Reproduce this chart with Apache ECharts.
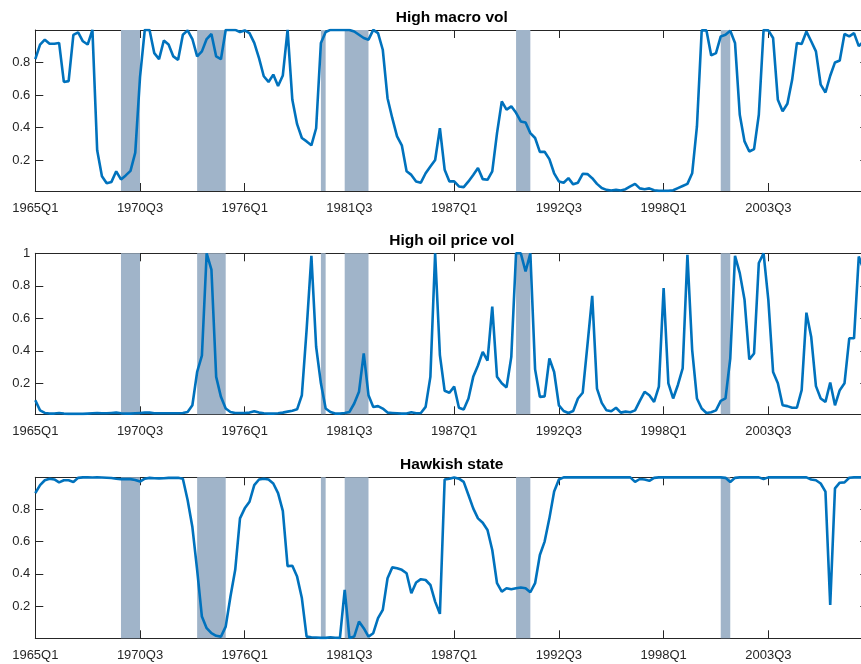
<!DOCTYPE html>
<html>
<head>
<meta charset="utf-8">
<script src="https://cdn.jsdelivr.net/npm/echarts@6/dist/echarts.min.js"></script>
<style>
html,body{margin:0;padding:0;background:#fff;overflow:hidden;width:861px;height:664px;}
#chart{width:880px;height:664px;}
</style>
</head>
<body>
<div id="chart"></div>
<script>
// Quarterly categories 1965Q1 .. 2008Q4
const startYear = 1965;
const nQuarters = 176;
const quarters = [];
for (let i = 0; i < nQuarters; i++) {
  quarters.push((startYear + Math.floor(i / 4)) + 'Q' + (i % 4 + 1));
}
const tickLabels = ['1965Q1','1970Q3','1976Q1','1981Q3','1987Q1','1992Q3','1998Q1','2003Q3'];

const titles = ['High macro vol', 'High oil price vol', 'Hawkish state'];

const highMacroVol = [
0.82,0.91,0.94,0.915,0.915,0.92,0.68,0.685,0.97,0.985,
0.93,0.91,1.0,0.26,0.10,0.057,0.065,0.13,0.08,0.105,
0.133,0.245,0.71,1.0,1.0,0.857,0.82,0.935,0.91,0.837,
0.816,0.97,0.997,0.944,0.837,0.868,0.944,0.975,0.837,0.82,
1.0,1.0,1.0,0.987,0.997,0.98,0.92,0.826,0.715,0.68,
0.725,0.655,0.72,1.0,0.57,0.42,0.335,0.314,0.29,0.395,
0.92,0.987,1.0,1.0,1.0,1.0,1.0,0.99,0.97,0.95,
0.94,1.0,0.98,0.878,0.58,0.457,0.345,0.29,0.13,0.108,
0.068,0.06,0.118,0.16,0.2,0.395,0.14,0.068,0.068,0.037,
0.033,0.068,0.108,0.15,0.082,0.078,0.13,0.365,0.56,0.51,
0.53,0.49,0.437,0.43,0.365,0.335,0.25,0.25,0.205,0.118,
0.068,0.06,0.088,0.05,0.06,0.115,0.113,0.088,0.053,0.027,
0.016,0.012,0.016,0.012,0.02,0.037,0.053,0.025,0.02,0.025,
0.014,0.01,0.01,0.01,0.014,0.027,0.04,0.053,0.118,0.406,
0.997,0.997,0.843,0.857,0.96,0.97,0.995,0.92,0.478,0.314,
0.252,0.267,0.478,1.0,0.997,0.95,0.57,0.5,0.546,0.693,
0.92,0.913,0.99,0.93,0.868,0.663,0.615,0.718,0.8,0.812,
0.975,0.96,0.98,0.9,0.93,0.95
];

const highOilVol = [
0.096,0.034,0.018,0.014,0.014,0.018,0.014,0.012,0.012,0.012,
0.012,0.014,0.016,0.018,0.016,0.016,0.018,0.02,0.016,0.014,
0.014,0.016,0.018,0.02,0.02,0.016,0.016,0.016,0.016,0.016,
0.016,0.018,0.024,0.065,0.27,0.37,1.0,0.9,0.24,0.117,
0.045,0.024,0.018,0.018,0.018,0.02,0.028,0.02,0.016,0.014,
0.014,0.016,0.02,0.026,0.032,0.04,0.127,0.53,0.985,0.425,
0.2,0.045,0.024,0.014,0.014,0.018,0.024,0.076,0.148,0.384,
0.127,0.055,0.06,0.045,0.02,0.018,0.016,0.014,0.014,0.022,
0.016,0.018,0.055,0.24,1.0,0.374,0.154,0.142,0.18,0.05,
0.039,0.107,0.24,0.31,0.394,0.34,0.672,0.24,0.2,0.175,
0.363,1.0,1.0,0.888,1.0,0.286,0.117,0.12,0.353,0.27,
0.065,0.03,0.018,0.03,0.107,0.142,0.436,0.738,0.168,0.08,
0.034,0.028,0.05,0.02,0.026,0.022,0.034,0.092,0.148,0.127,
0.086,0.18,0.786,0.2,0.107,0.19,0.292,0.99,0.405,0.107,
0.045,0.018,0.022,0.034,0.092,0.107,0.353,0.985,0.878,0.714,
0.347,0.384,0.94,1.0,0.714,0.27,0.2,0.065,0.06,0.05,
0.05,0.158,0.635,0.487,0.183,0.107,0.086,0.205,0.065,0.158,
0.2,0.477,0.477,0.98,0.9,0.85
];

const hawkishState = [
0.9,0.95,0.98,0.99,0.985,0.967,0.98,0.98,0.97,0.995,
0.998,0.998,0.997,0.998,0.997,0.996,0.994,0.99,0.987,0.987,
0.987,0.982,0.972,0.99,0.995,0.993,0.992,0.993,0.995,0.995,
0.996,0.99,0.858,0.69,0.425,0.135,0.063,0.032,0.016,0.011,
0.073,0.26,0.425,0.744,0.806,0.847,0.95,0.985,0.99,0.985,
0.96,0.9,0.79,0.448,0.45,0.383,0.25,0.011,0.007,0.005,
0.003,0.003,0.007,0.004,0.003,0.3,0.003,0.011,0.104,0.063,
0.011,0.032,0.125,0.177,0.373,0.44,0.435,0.425,0.404,0.28,
0.346,0.367,0.362,0.331,0.228,0.152,0.985,0.99,0.998,0.99,
0.97,0.889,0.806,0.744,0.717,0.672,0.548,0.342,0.29,0.311,
0.305,0.311,0.315,0.311,0.286,0.342,0.517,0.6,0.744,0.91,
0.985,0.998,0.998,0.998,0.998,0.998,0.998,0.998,0.998,0.998,
0.998,0.998,0.998,0.998,0.998,0.998,0.97,0.988,0.985,0.977,
0.995,0.998,0.998,0.998,0.998,0.998,0.998,0.998,0.998,0.998,
0.998,0.998,0.998,0.998,0.998,0.995,0.97,0.995,0.998,0.998,
0.998,0.998,0.998,0.988,0.998,0.998,0.998,0.998,0.998,0.998,
0.998,0.998,0.998,0.985,0.98,0.96,0.91,0.208,0.93,0.965,
0.967,0.996,0.998,0.998,0.998,0.998
];

const recessions = [
  ['1969Q3','1970Q3'],
  ['1973Q3','1975Q1'],
  ['1980Q1','1980Q2'],
  ['1981Q2','1982Q3'],
  ['1990Q2','1991Q1'],
  ['2001Q1','2001Q3']
];

const seriesList = [highMacroVol, highOilVol, hawkishState];
const yMin = [0.009, 0.0096, 0.0005];
const yMax = [0.9995, 1.0, 0.9985];
const yTickValues = [
  [0.2, 0.4, 0.6, 0.8],
  [0.2, 0.4, 0.6, 0.8, 1],
  [0.2, 0.4, 0.6, 0.8]
];
const gridTops = [30, 253.3, 477.3];
const gridHeight = 161;
const gridLeft = 35.3;
const gridWidth = 833;

const axisColor = '#262626';
const fontFamily = '"Liberation Sans", Arial, Helvetica, sans-serif';

const grids = [], xAxes = [], yAxes = [], series = [], graphics = [];
for (let g = 0; g < 3; g++) {
  grids.push({ left: gridLeft, top: gridTops[g], width: gridWidth, height: gridHeight, show: false });
  const xBase = {
    type: 'category', data: quarters, boundaryGap: false, gridIndex: g,
    axisLine: { show: true, lineStyle: { color: axisColor, width: 1 } },
    axisTick: { show: true, inside: true, length: 8, interval: 21, lineStyle: { color: axisColor, width: 1 } },
    splitLine: { show: false }
  };
  xAxes.push(Object.assign({}, xBase, {
    position: 'bottom',
    axisLabel: {
      show: true, interval: 21, margin: 11, color: axisColor, fontSize: 13, fontFamily: fontFamily,
      formatter: v => (tickLabels.indexOf(v) >= 0 ? v : '')
    }
  }));
  xAxes.push(Object.assign({}, xBase, { position: 'top', axisLabel: { show: false } }));
  const yBase = {
    type: 'value', gridIndex: g, min: yMin[g], max: yMax[g],
    axisLine: { show: true, lineStyle: { color: axisColor, width: 1 } },
    axisTick: { show: true, inside: true, length: 8, customValues: yTickValues[g], lineStyle: { color: axisColor, width: 1 } },
    splitLine: { show: false }
  };
  yAxes.push(Object.assign({}, yBase, {
    position: 'left',
    axisLabel: { show: true, customValues: yTickValues[g], margin: 5, color: axisColor, fontSize: 13, fontFamily: fontFamily,
      formatter: v => String(Math.round(v * 10) / 10) }
  }));
  yAxes.push(Object.assign({}, yBase, { position: 'right', axisLabel: { show: false } }));

  series.push({
    type: 'line', xAxisIndex: 2 * g, yAxisIndex: 2 * g,
    data: seriesList[g], symbol: 'none', showSymbol: false,
    lineStyle: { color: '#0072BD', width: 2.6 },
    itemStyle: { color: '#0072BD' },
    z: 5,
    markArea: {
      silent: true,
      itemStyle: { color: '#a0b4c9', opacity: 1 },
      data: recessions.map(r => [{ xAxis: r[0] }, { xAxis: r[1] }])
    }
  });

  graphics.push({
    type: 'text',
    x: gridLeft + gridWidth / 2,
    y: gridTops[g] - 12.3,
    style: {
      text: titles[g],
      font: 'bold 15.5px ' + fontFamily,
      fill: '#000',
      align: 'center', verticalAlign: 'middle',
      textAlign: 'center', textVerticalAlign: 'middle'
    }
  });
}

const chart = echarts.init(document.getElementById('chart'), null, { renderer: 'canvas' });
chart.setOption({
  animation: false,
  backgroundColor: '#fff',
  grid: grids,
  xAxis: xAxes,
  yAxis: yAxes,
  series: series,
  graphic: graphics
});
</script>
</body>
</html>
